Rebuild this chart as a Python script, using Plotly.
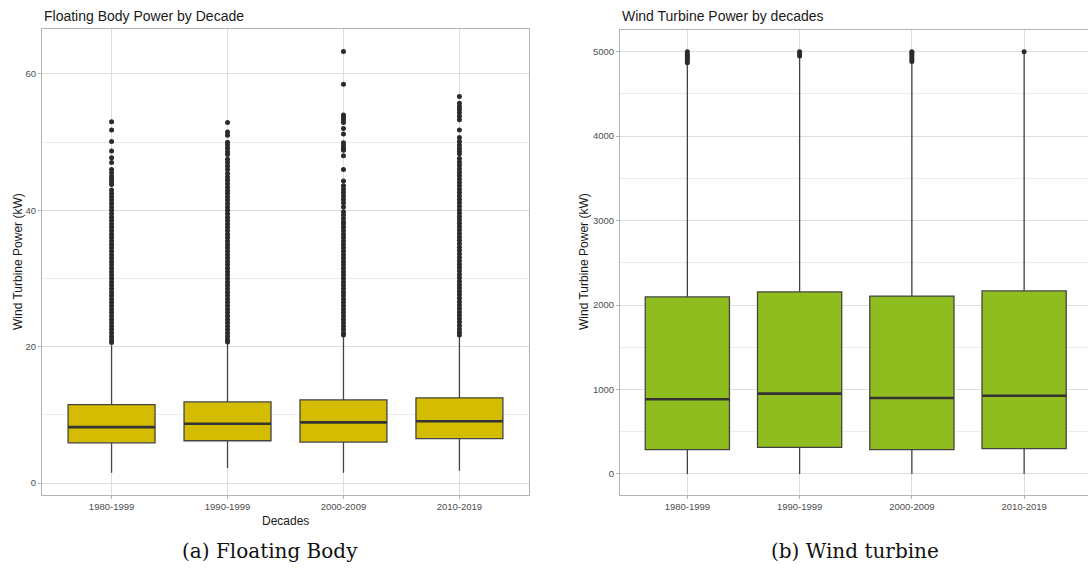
import plotly.graph_objects as go

# ---------------- data ----------------
decades = ["1980-1999", "1990-1999", "2000-2009", "2010-2019"]

# Floating body (left panel)
fb_q1 = [5.9, 6.2, 6.0, 6.5]
fb_median = [8.2, 8.7, 8.9, 9.05]
fb_q3 = [11.5, 11.9, 12.2, 12.5]
fb_lower = [1.5, 2.2, 1.5, 1.8]
fb_upper = [20.2, 20.4, 21.4, 21.4]

fb_out_1980 = [53.0, 51.8, 50.1, 48.7, 47.7, 47.0, 46.0, 45.5, 45.0, 44.6, 44.2, 43.8,
               43.0, 42.5, 42.0, 41.5, 41.0, 40.5, 40.0, 39.5, 39.0, 38.5, 38.0, 37.5,
               37.0, 36.5, 36.0, 35.5, 35.0, 34.5, 34.0, 33.5, 33.0, 32.5, 32.0, 31.5,
               31.0, 30.5, 30.0, 29.5, 29.0, 28.5, 28.0, 27.5, 27.0, 26.5, 26.0, 25.5,
               25.0, 24.5, 24.0, 23.5, 23.0, 22.5, 22.0, 21.5, 21.0, 20.6]
fb_out_1990 = [52.9, 51.5, 51.0, 50.0, 49.6, 49.1, 48.6, 48.2, 47.5, 47.0, 46.5, 46.0,
               45.4, 44.9, 44.4, 43.9, 43.4, 42.9, 42.5, 42.0, 41.5, 41.0, 40.5, 40.0,
               39.5, 39.0, 38.5, 38.0, 37.5, 37.0, 36.5, 36.0, 35.5, 35.0, 34.5, 34.0,
               33.5, 33.0, 32.5, 32.0, 31.5, 31.0, 30.5, 30.0, 29.5, 29.0, 28.5, 28.0,
               27.5, 27.0, 26.5, 26.0, 25.5, 25.0, 24.5, 24.0, 23.5, 23.0, 22.5, 22.0,
               21.5, 21.0, 20.7]
fb_out_2000 = [63.3, 58.5, 54.0, 53.6, 53.3, 52.9, 52.0, 51.2, 49.9, 49.5, 49.1, 48.8,
               48.0, 46.0, 44.3, 43.6, 43.1, 42.6, 42.1, 41.6, 41.1, 40.5, 39.8, 39.3,
               38.8, 38.3, 38.0, 37.5, 37.0, 36.5, 36.0, 35.5, 35.0, 34.5, 34.0, 33.5,
               33.0, 32.5, 32.0, 31.5, 31.0, 30.5, 30.0, 29.5, 29.0, 28.5, 28.0, 27.5,
               27.0, 26.5, 26.0, 25.5, 25.0, 24.5, 24.0, 23.5, 23.0, 22.5, 22.0, 21.7]
fb_out_2010 = [56.7, 55.7, 55.2, 54.8, 54.3, 53.8, 53.3, 51.8, 50.7, 50.1, 49.6, 49.1,
               48.7, 48.3, 47.6, 47.1, 46.6, 46.1, 45.6, 45.1, 44.6, 44.1, 43.6, 43.1,
               42.6, 42.1, 41.6, 41.1, 40.6, 40.1, 39.6, 39.1, 38.6, 38.1, 37.6, 37.1,
               36.6, 36.1, 35.6, 35.1, 34.6, 34.1, 33.6, 33.1, 32.6, 32.1, 31.6, 31.1,
               30.6, 30.1, 29.6, 29.1, 28.6, 28.1, 27.6, 27.1, 26.6, 26.1, 25.6, 25.1,
               24.6, 24.1, 23.6, 23.1, 22.6, 22.1, 21.7]

# Wind turbine (right panel)
wt_q1 = [288, 316, 288, 300]
wt_median = [884, 951, 900, 927]
wt_q3 = [2096, 2155, 2107, 2167]
wt_lower = [0, 0, 0, 0]
wt_upper = [4850, 4930, 4870, 4990]

wt_out_1980 = [4870, 4895, 4920, 4945, 4970, 5000]
wt_out_1990 = [4950, 4975, 5000]
wt_out_2000 = [4885, 4910, 4935, 4960, 4985, 5000]
wt_out_2010 = [5000]

fb_outliers = [fb_out_1980, fb_out_1990, fb_out_2000, fb_out_2010]
wt_outliers = [wt_out_1980, wt_out_1990, wt_out_2000, wt_out_2010]

# ---------------- styling ----------------
W, H = 1088, 572
FONT = "Liberation Sans, Arial, sans-serif"
SERIF = "DejaVu Serif, Liberation Serif, serif"
BOX_LINE = "#444444"
MED_LINE = "#333333"
PT_COL = "#2b2b2b"
GRID = "#dedede"
MINOR = "#ececec"
BORDER = "#b3b3b3"

fig = go.Figure()


def add_panel(xa, ya, q1, med, q3, lo, hi, outs, fill):
    fig.add_trace(go.Box(
        x=decades, q1=q1, median=med, q3=q3, lowerfence=lo, upperfence=hi,
        boxpoints=False, fillcolor=fill, width=0.75, whiskerwidth=0,
        line=dict(color=BOX_LINE, width=1.3), xaxis=xa, yaxis=ya,
        showlegend=False, hoverinfo="skip"))
    fig.add_trace(go.Box(
        x=decades, q1=med, median=med, q3=med, lowerfence=med, upperfence=med,
        boxpoints=False, fillcolor="rgba(0,0,0,0)", width=0.75, whiskerwidth=0,
        line=dict(color=MED_LINE, width=2.6), xaxis=xa, yaxis=ya,
        showlegend=False, hoverinfo="skip"))
    for cat, vals in zip(decades, outs):
        fig.add_trace(go.Scatter(
            x=[cat] * len(vals), y=vals, mode="markers",
            marker=dict(color=PT_COL, size=5, line=dict(width=0)),
            xaxis=xa, yaxis=ya, showlegend=False, hoverinfo="skip"))


add_panel("x", "y", fb_q1, fb_median, fb_q3, fb_lower, fb_upper, fb_outliers, "#D4BC00")
add_panel("x2", "y2", wt_q1, wt_median, wt_q3, wt_lower, wt_upper, wt_outliers, "#8FBC1F")

tickfont = dict(family=FONT, size=9.5, color="#4d4d4d")
common_x = dict(type="category", showgrid=True, gridcolor=GRID, gridwidth=1,
                showline=True, mirror=True, linecolor=BORDER, linewidth=1,
                ticks="outside", ticklen=3, tickcolor=BORDER, tickfont=tickfont,
                zeroline=False, fixedrange=True)
common_y = dict(showgrid=True, gridcolor=GRID, gridwidth=1,
                showline=True, mirror=True, linecolor=BORDER, linewidth=1,
                ticks="outside", ticklen=3, tickcolor=BORDER, tickfont=tickfont,
                zeroline=False, fixedrange=True)

fig.update_layout(
    width=W, height=H,
    margin=dict(l=0, r=0, t=0, b=0),
    paper_bgcolor="white", plot_bgcolor="white",
    boxmode="overlay",
    xaxis=dict(domain=[42 / W, 529 / W], range=[-0.6, 3.6], anchor="y", **common_x),
    yaxis=dict(domain=[(H - 495) / H, (H - 29) / H], range=[-1.76, 66.6], anchor="x",
               tick0=0, dtick=20,
               minor=dict(dtick=10, tick0=0, showgrid=True, gridcolor=MINOR, gridwidth=1, ticks=""),
               **common_y),
    xaxis2=dict(domain=[620 / W, 1.0], range=[-0.6, 3.569], anchor="y2", **common_x),
    yaxis2=dict(domain=[(H - 495) / H, (H - 30) / H], range=[-249, 5257], anchor="x2",
                tick0=0, dtick=1000,
                minor=dict(dtick=500, tick0=0, showgrid=True, gridcolor=MINOR, gridwidth=1, ticks=""),
                **common_y),
    font=dict(family=FONT, color="#1a1a1a"),
)

ann = []
ann.append(dict(text="Floating Body Power by Decade", x=42 / W, y=(H - 16) / H,
                xanchor="left", yanchor="middle", showarrow=False,
                font=dict(family=FONT, size=14, color="#1a1a1a")))
ann.append(dict(text="Wind Turbine Power by decades", x=620 / W, y=(H - 16) / H,
                xanchor="left", yanchor="middle", showarrow=False,
                font=dict(family=FONT, size=14, color="#1a1a1a")))
ann.append(dict(text="Wind Turbine Power (kW)", x=18 / W, y=(H - 262) / H,
                xanchor="center", yanchor="middle", textangle=-90, showarrow=False,
                font=dict(family=FONT, size=12, color="#1a1a1a")))
ann.append(dict(text="Wind Turbine Power (kW)", x=584 / W, y=(H - 262) / H,
                xanchor="center", yanchor="middle", textangle=-90, showarrow=False,
                font=dict(family=FONT, size=12, color="#1a1a1a")))
ann.append(dict(text="Decades", x=285.5 / W, y=(H - 521) / H,
                xanchor="center", yanchor="middle", showarrow=False,
                font=dict(family=FONT, size=12, color="#1a1a1a")))
ann.append(dict(text="(a) Floating Body", x=270 / W, y=(H - 551) / H,
                xanchor="center", yanchor="middle", showarrow=False,
                font=dict(family=SERIF, size=20, color="#111111")))
ann.append(dict(text="(b) Wind turbine", x=855 / W, y=(H - 551) / H,
                xanchor="center", yanchor="middle", showarrow=False,
                font=dict(family=SERIF, size=20, color="#111111")))
for a in ann:
    a.update(xref="paper", yref="paper")
fig.update_layout(annotations=ann)

fig.write_html("out.html", config={"displayModeBar": False},
               post_script="document.body.style.margin='0px';document.body.style.padding='0px';")
